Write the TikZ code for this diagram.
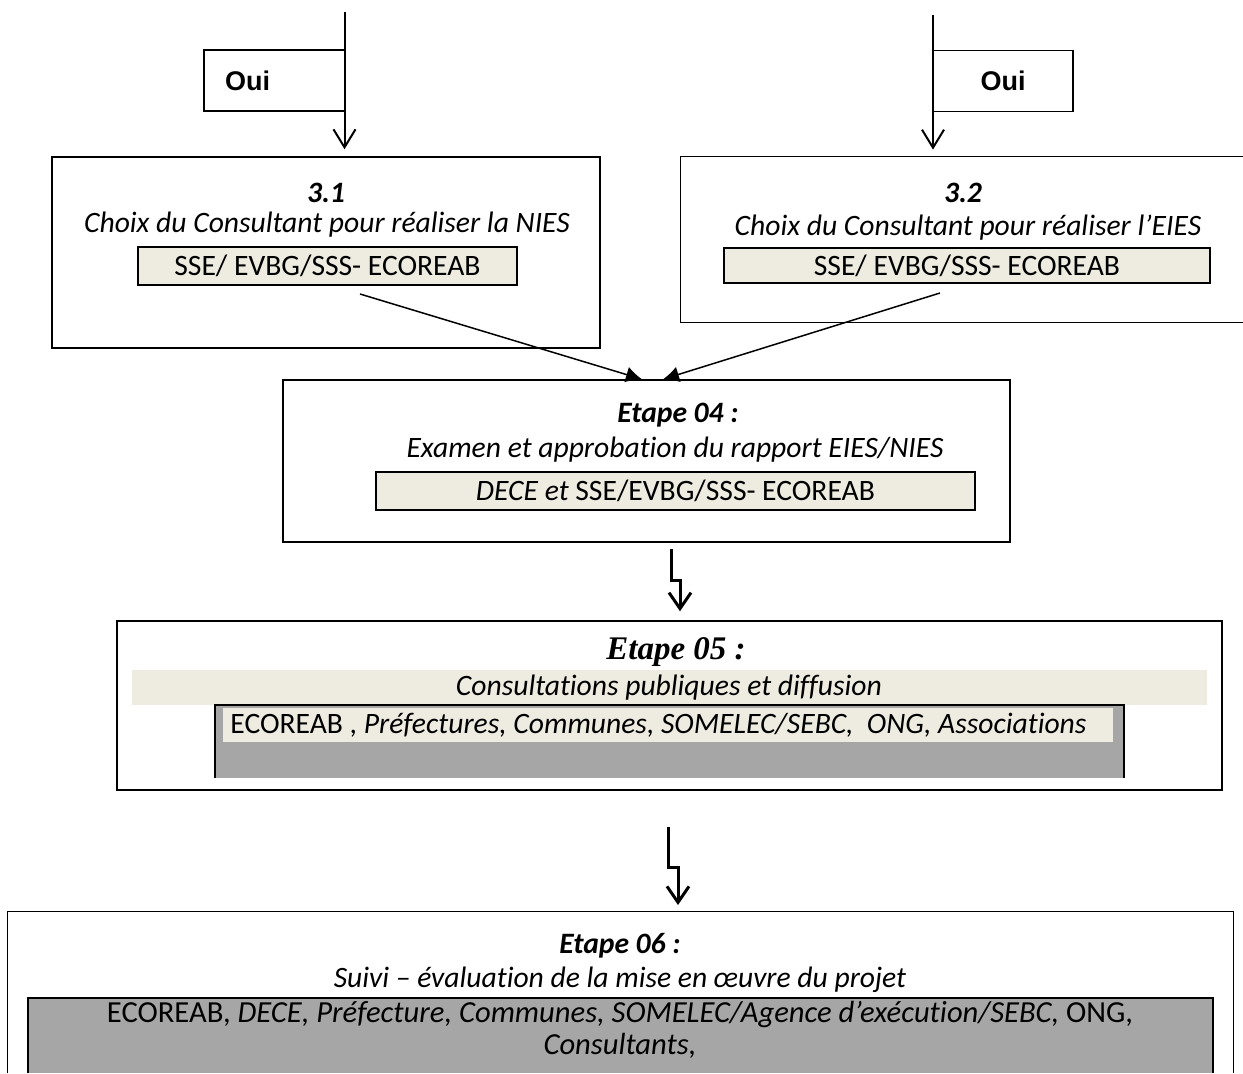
\documentclass[tikz,border=0pt]{standalone}
\usepackage{fontspec}
\setmainfont[Ligatures={NoCommon}]{Carlito}
\newfontfamily\arialf{Liberation Sans}
\newfontfamily\timesf{Liberation Serif}
\usetikzlibrary{arrows.meta,calc}
\definecolor{beige}{HTML}{EEECE1}
\definecolor{grayf}{HTML}{A6A6A6}
\begin{document}
\begin{tikzpicture}[x=0.5pt,y=-0.5pt,
  box/.style={draw, line width=0.75pt, inner sep=0pt},
  openbox/.style={inner sep=0pt},
  inbox/.style={draw, line width=1pt, fill=beige, inner sep=0pt, font=\fontsize{14.8}{18}\selectfont},
  ttl/.style={inner sep=0pt, font=\fontsize{14.8}{18}\selectfont\bfseries\itshape},
  sub/.style={inner sep=0pt, font=\fontsize{14.8}{18}\selectfont\itshape},
  txt/.style={inner sep=0pt, font=\fontsize{14.8}{18}\selectfont},
  ouibox/.style={draw, line width=0.75pt, inner ysep=0pt, minimum height=30.5pt, font=\arialf\bfseries\fontsize{13.5}{16}\selectfont},
  toparr/.style={line width=1pt, -{Straight Barb[length=9pt,width=11pt,line width=1pt]}},
  conn/.style={line width=0.75pt, -{Latex[length=8pt,width=8pt]}},
  zz/.style={line width=1.5pt, miter limit=4, -{Straight Barb[length=8pt,width=11pt,line width=1.5pt]}}
]
\useasboundingbox (0,0) rectangle (1243,1073);

% top arrows and Oui boxes
\node[ouibox, text width=49.5pt, inner xsep=10.5pt, align=left] (ouiL) at (274.5,80.5) {Oui};
\node[ouibox, minimum width=70pt, inner xsep=0pt] (ouiR) at (1003,81) {Oui};

% box 3.1
\node[box, minimum width=274pt, minimum height=95.5pt] (b31) at (326,252.5) {};
\node[ttl] (t31) at (326,193) {3.1};
\node[sub] (c31) at (327,225) {Choix du Consultant pour réaliser la NIES};
\node[inbox, minimum width=189.5pt, minimum height=19pt] (in31) at (327.5,266) {SSE/ EVBG/SSS- ECOREAB};

% box 3.2 (cut at right edge)
\node[openbox, minimum width=281pt, minimum height=82.5pt] (b32) at (962,239.5) {};
\draw[line width=0.75pt] (b32.north east) -- (b32.north west) -- (b32.south west) -- (b32.south east);
\node[ttl] (t32) at (963,193) {3.2};
\node[sub] (c32) at (968,228) {Choix du Consultant pour réaliser l’EIES};
\node[inbox, minimum width=243pt, minimum height=17.5pt] (in32) at (967,265.5) {SSE/ EVBG/SSS- ECOREAB};

\coordinate (aL) at (344.5,12);
\coordinate (aR) at (933,15);
\draw[toparr, shorten >=3.5pt] (aL) -- (aL |- b31.north);
\draw[toparr, shorten >=3.5pt] (aR) -- (aR |- b32.north);

% Etape 04
\node[box, minimum width=363.5pt, minimum height=81pt] (e04) at (646.5,461) {};
\node[ttl] (t04) at (678,415) {Etape 04 :};
\node[sub] (c04) at (675,450) {Examen et approbation du rapport EIES/NIES};
\node[inbox, minimum width=299.5pt, minimum height=19pt] (in04) at (675.5,491) {\itshape DECE et \upshape SSE/EVBG/SSS- ECOREAB};

\draw[conn] ($(in31.south)+(32.5,8)$) -- ($(e04.north)+(-4.5,0)$);
\draw[conn] ($(in32.south)+(-27,9)$) -- ($(e04.north)+(16.5,0)$);

% Etape 05
\node[box, minimum width=552.5pt, minimum height=84.5pt] (e05) at (669.5,705.5) {};
\node[inner sep=0pt, font=\timesf\bfseries\itshape\fontsize{16.5}{19}\selectfont] (t05) at (676,652) {Etape 05 :};
\node[openbox, fill=beige, minimum width=537.5pt, minimum height=17.5pt] (band05) at (669.5,687.5) {};
\node[sub] (c05) at (669,688) {Consultations publiques et diffusion};
\node[openbox, fill=grayf, minimum width=454.5pt, minimum height=36.5pt] (g05) at (669.5,741.5) {};
\draw[line width=1pt] (g05.south west) -- (g05.north west) -- (g05.north east) -- (g05.south east);
\node[openbox, fill=beige, minimum width=445pt, minimum height=17pt] (hl05) at (668,725) {};
\node[txt, anchor=west] (a05) at (230,725) {ECOREAB , \itshape Préfectures, Communes, SOMELEC/SEBC,\ \ ONG, Associations};

\draw[zz] ($(e04.south)+(24.5,6)$) -- ++(0,32) -- ++(9,0) coordinate (z1) -- ($(z1 |- e05.north)+(0,-9)$);
\draw[zz] ($(e05.south)+(-1.5,36)$) -- ++(0,41) -- ++(10,0) coordinate (z2) -- ($(z2 |- 0,912)+(0,-7)$);

% Etape 06 (cut at bottom)
\node[openbox, minimum width=612.5pt, minimum height=80.5pt] (e06) at (620.5,992.5) {};
\draw[line width=0.75pt] (e06.south west) -- (e06.north west) -- (e06.north east) -- (e06.south east);
\node[ttl] (t06) at (620,946) {Etape 06 :};
\node[sub] (c06) at (620,980) {Suivi – évaluation de la mise en œuvre du projet};
\node[openbox, fill=grayf, minimum width=592.5pt, minimum height=37.5pt] (g06) at (620.5,1035.5) {};
\draw[line width=1pt] (g06.south west) -- (g06.north west) -- (g06.north east) -- (g06.south east);
\node[txt, align=center, font=\fontsize{15.3}{16}\selectfont] (a06) at (620,1030) {ECOREAB, \textit{DECE, Préfecture, Communes, SOMELEC/Agence d’exécution/SEBC,} ONG,\\ \textit{Consultants,}};
\end{tikzpicture}
\end{document}
